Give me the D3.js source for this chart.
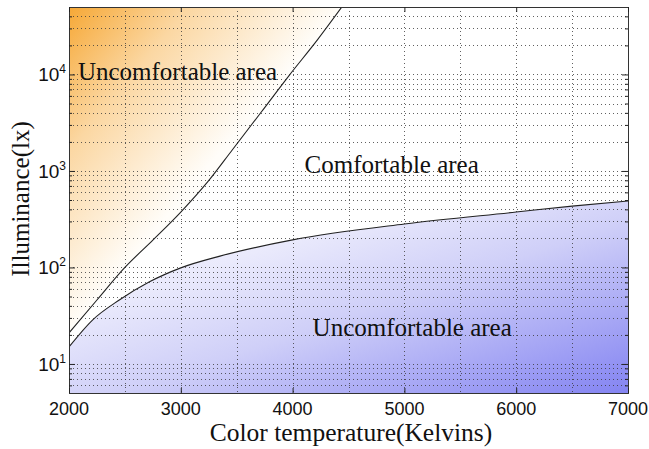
<!DOCTYPE html>
<html>
<head>
<meta charset="utf-8">
<script src="https://cdn.jsdelivr.net/npm/d3@7"></script>
<style>
  html, body { margin: 0; padding: 0; background: #fff; }
  svg { display: block; }
</style>
</head>
<body>
<svg id="chart" width="649" height="449"></svg>
<script>
// Kruithof-style comfort chart: illuminance (log) vs. colour temperature.

// Upper boundary (too warm / too bright for the colour temperature)
const upperTemp = [2000, 2250, 2500, 2750, 3000, 3240, 3460, 3720, 3970, 4220, 4440];
const upperLux  = [21, 46, 100, 192, 375, 770, 1650, 4080, 9800, 22700, 50000];

// Lower boundary (too dim / too cold)
const lowerTemp = [2000, 2210, 2450, 2720, 3000, 3350, 4000, 5000, 6000, 6500, 7000];
const lowerLux  = [15, 28.5, 46, 71, 99, 131, 193, 282, 375, 432, 488];

// Axes
const xDomain = [2000, 7000];
const yDomain = [5, 50000];
const xTickValues = [2000, 3000, 4000, 5000, 6000, 7000];
const xGridValues = [2500, 3000, 3500, 4000, 4500, 5000, 5500, 6000, 6500];
const yDecadeExponents = [1, 2, 3, 4];
const yMultipliers = [1, 2, 3, 4, 5, 6, 7, 8, 9];

// Region labels
const regionLabels = [
  { text: "Uncomfortable area", t: 2080, lux: 8760 },
  { text: "Comfortable area",   t: 4107, lux: 950 },
  { text: "Uncomfortable area", t: 4179, lux: 19.5 }
];

const xLabel = "Color temperature(Kelvins)";
const yLabel = "Illuminance(lx)";

const svg = d3.select("#chart");
const plot = { left: 69, top: 7, right: 628, bottom: 393 };

const x = d3.scaleLinear().domain(xDomain).range([plot.left, plot.right]);
const y = d3.scaleLog().domain(yDomain).range([plot.bottom, plot.top]);

const defs = svg.append("defs");
defs.append("clipPath").attr("id", "plotClip")
  .append("rect")
  .attr("x", plot.left).attr("y", plot.top)
  .attr("width", plot.right - plot.left).attr("height", plot.bottom - plot.top);

const warm = defs.append("linearGradient").attr("id", "warmGrad")
  .attr("x1", 0).attr("y1", 0).attr("x2", 1).attr("y2", 1);
[[0, "#F6A836"], [0.22, "#FBD7A2"], [0.5, "#FFFDF9"], [1, "#FFFFFF"]]
  .forEach(([o, c]) => warm.append("stop").attr("offset", o).attr("stop-color", c));

const cool = defs.append("linearGradient").attr("id", "coolGrad")
  .attr("x1", 0).attr("y1", 0).attr("x2", 1).attr("y2", 1);
[[0, "#F6F6FE"], [0.3, "#EAEAFC"], [0.55, "#CFCFF8"], [1, "#8484F2"]]
  .forEach(([o, c]) => cool.append("stop").attr("offset", o).attr("stop-color", c));

const upperPts = upperTemp.map((t, i) => [x(t), y(upperLux[i])]);
const lowerPts = lowerTemp.map((t, i) => [x(t), y(lowerLux[i])]);
const curve = d3.line().curve(d3.curveMonotoneX);

const g = svg.append("g").attr("clip-path", "url(#plotClip)");

// warm region: left of / above the upper boundary
const warmPath = curve(upperPts.slice().reverse()) +
  `L${x(xDomain[0])},${y(yDomain[1])}Z`;
g.append("path").attr("d", warmPath).attr("fill", "url(#warmGrad)");

// cool region: below the lower boundary
const coolPath = curve(lowerPts) +
  `L${x(xDomain[1])},${y(yDomain[0])}L${x(xDomain[0])},${y(yDomain[0])}Z`;
g.append("path").attr("d", coolPath).attr("fill", "url(#coolGrad)");

// dotted grid
const gridStyle = sel => sel
  .attr("stroke", "#3a3a3a").attr("stroke-width", 1)
  .attr("stroke-dasharray", "1,3").attr("opacity", 0.8)
  .attr("shape-rendering", "crispEdges");

const yGridValues = [];
yDecadeExponents.concat([0]).forEach(e => yMultipliers.forEach(m => {
  const v = m * Math.pow(10, e);
  if (v > yDomain[0] && v < yDomain[1]) yGridValues.push(v);
}));

g.selectAll("line.hgrid").data(yGridValues).join("line")
  .attr("class", "hgrid")
  .attr("x1", plot.left).attr("x2", plot.right)
  .attr("y1", d => Math.round(y(d)) + 0.5).attr("y2", d => Math.round(y(d)) + 0.5)
  .call(gridStyle);

g.selectAll("line.vgrid").data(xGridValues).join("line")
  .attr("class", "vgrid")
  .attr("y1", plot.top).attr("y2", plot.bottom)
  .attr("x1", d => Math.round(x(d)) + 0.5).attr("x2", d => Math.round(x(d)) + 0.5)
  .call(gridStyle);

// boundary curves
g.append("path").attr("d", curve(upperPts))
  .attr("fill", "none").attr("stroke", "#222").attr("stroke-width", 1.1);
g.append("path").attr("d", curve(lowerPts))
  .attr("fill", "none").attr("stroke", "#222").attr("stroke-width", 1.1);

// frame
svg.append("rect")
  .attr("x", plot.left + 0.5).attr("y", plot.top + 0.5)
  .attr("width", plot.right - plot.left).attr("height", plot.bottom - plot.top)
  .attr("fill", "none").attr("stroke", "#333").attr("stroke-width", 1);

// inward ticks via d3 axes
const tickStyle = sel => {
  sel.select(".domain").remove();
  sel.selectAll("line").attr("stroke", "#222");
  sel.selectAll("text").remove();
};
svg.append("g").attr("transform", `translate(0,${plot.bottom})`)
  .call(d3.axisBottom(x).tickValues(xTickValues).tickSize(-5)).call(tickStyle);
svg.append("g").attr("transform", `translate(0,${plot.top})`)
  .call(d3.axisTop(x).tickValues(xTickValues).tickSize(-5)).call(tickStyle);

const yMajor = yDecadeExponents.map(e => Math.pow(10, e));
const yMinor = yGridValues.filter(v => !yMajor.includes(v));
[[plot.left, d3.axisLeft], [plot.right, d3.axisRight]].forEach(([px, ax]) => {
  svg.append("g").attr("transform", `translate(${px},0)`)
    .call(ax(y).tickValues(yMajor).tickSize(-6)).call(tickStyle);
  svg.append("g").attr("transform", `translate(${px},0)`)
    .call(ax(y).tickValues(yMinor).tickSize(-3)).call(tickStyle);
});

// x tick labels
svg.append("g").selectAll("text").data(xTickValues).join("text")
  .attr("x", d => x(d)).attr("y", 415)
  .attr("text-anchor", "middle")
  .attr("font-family", "Liberation Sans, Arial, sans-serif")
  .attr("font-size", 18).attr("fill", "#111")
  .text(d => d);

// y tick labels 10^n
const yt = svg.append("g").selectAll("text").data(yDecadeExponents).join("text")
  .attr("x", 66).attr("y", d => y(Math.pow(10, d)) + 7)
  .attr("text-anchor", "end")
  .attr("font-family", "Liberation Sans, Arial, sans-serif")
  .attr("font-size", 19).attr("fill", "#111");
yt.append("tspan").text("10");
yt.append("tspan").attr("font-size", 12).attr("dy", -8).text(d => d);

// axis titles
svg.append("text")
  .attr("x", 351).attr("y", 441)
  .attr("text-anchor", "middle")
  .attr("font-family", "Liberation Serif, Times New Roman, serif")
  .attr("font-size", 25.5).attr("fill", "#111")
  .text(xLabel);

svg.append("text")
  .attr("transform", "translate(29,199) rotate(-90)")
  .attr("text-anchor", "middle")
  .attr("font-family", "Liberation Serif, Times New Roman, serif")
  .attr("font-size", 25).attr("fill", "#111")
  .text(yLabel);

// region labels
svg.append("g").selectAll("text").data(regionLabels).join("text")
  .attr("x", d => x(d.t)).attr("y", d => y(d.lux))
  .attr("font-family", "Liberation Serif, Times New Roman, serif")
  .attr("font-size", 25).attr("fill", "#111")
  .text(d => d.text);
</script>
</body>
</html>
